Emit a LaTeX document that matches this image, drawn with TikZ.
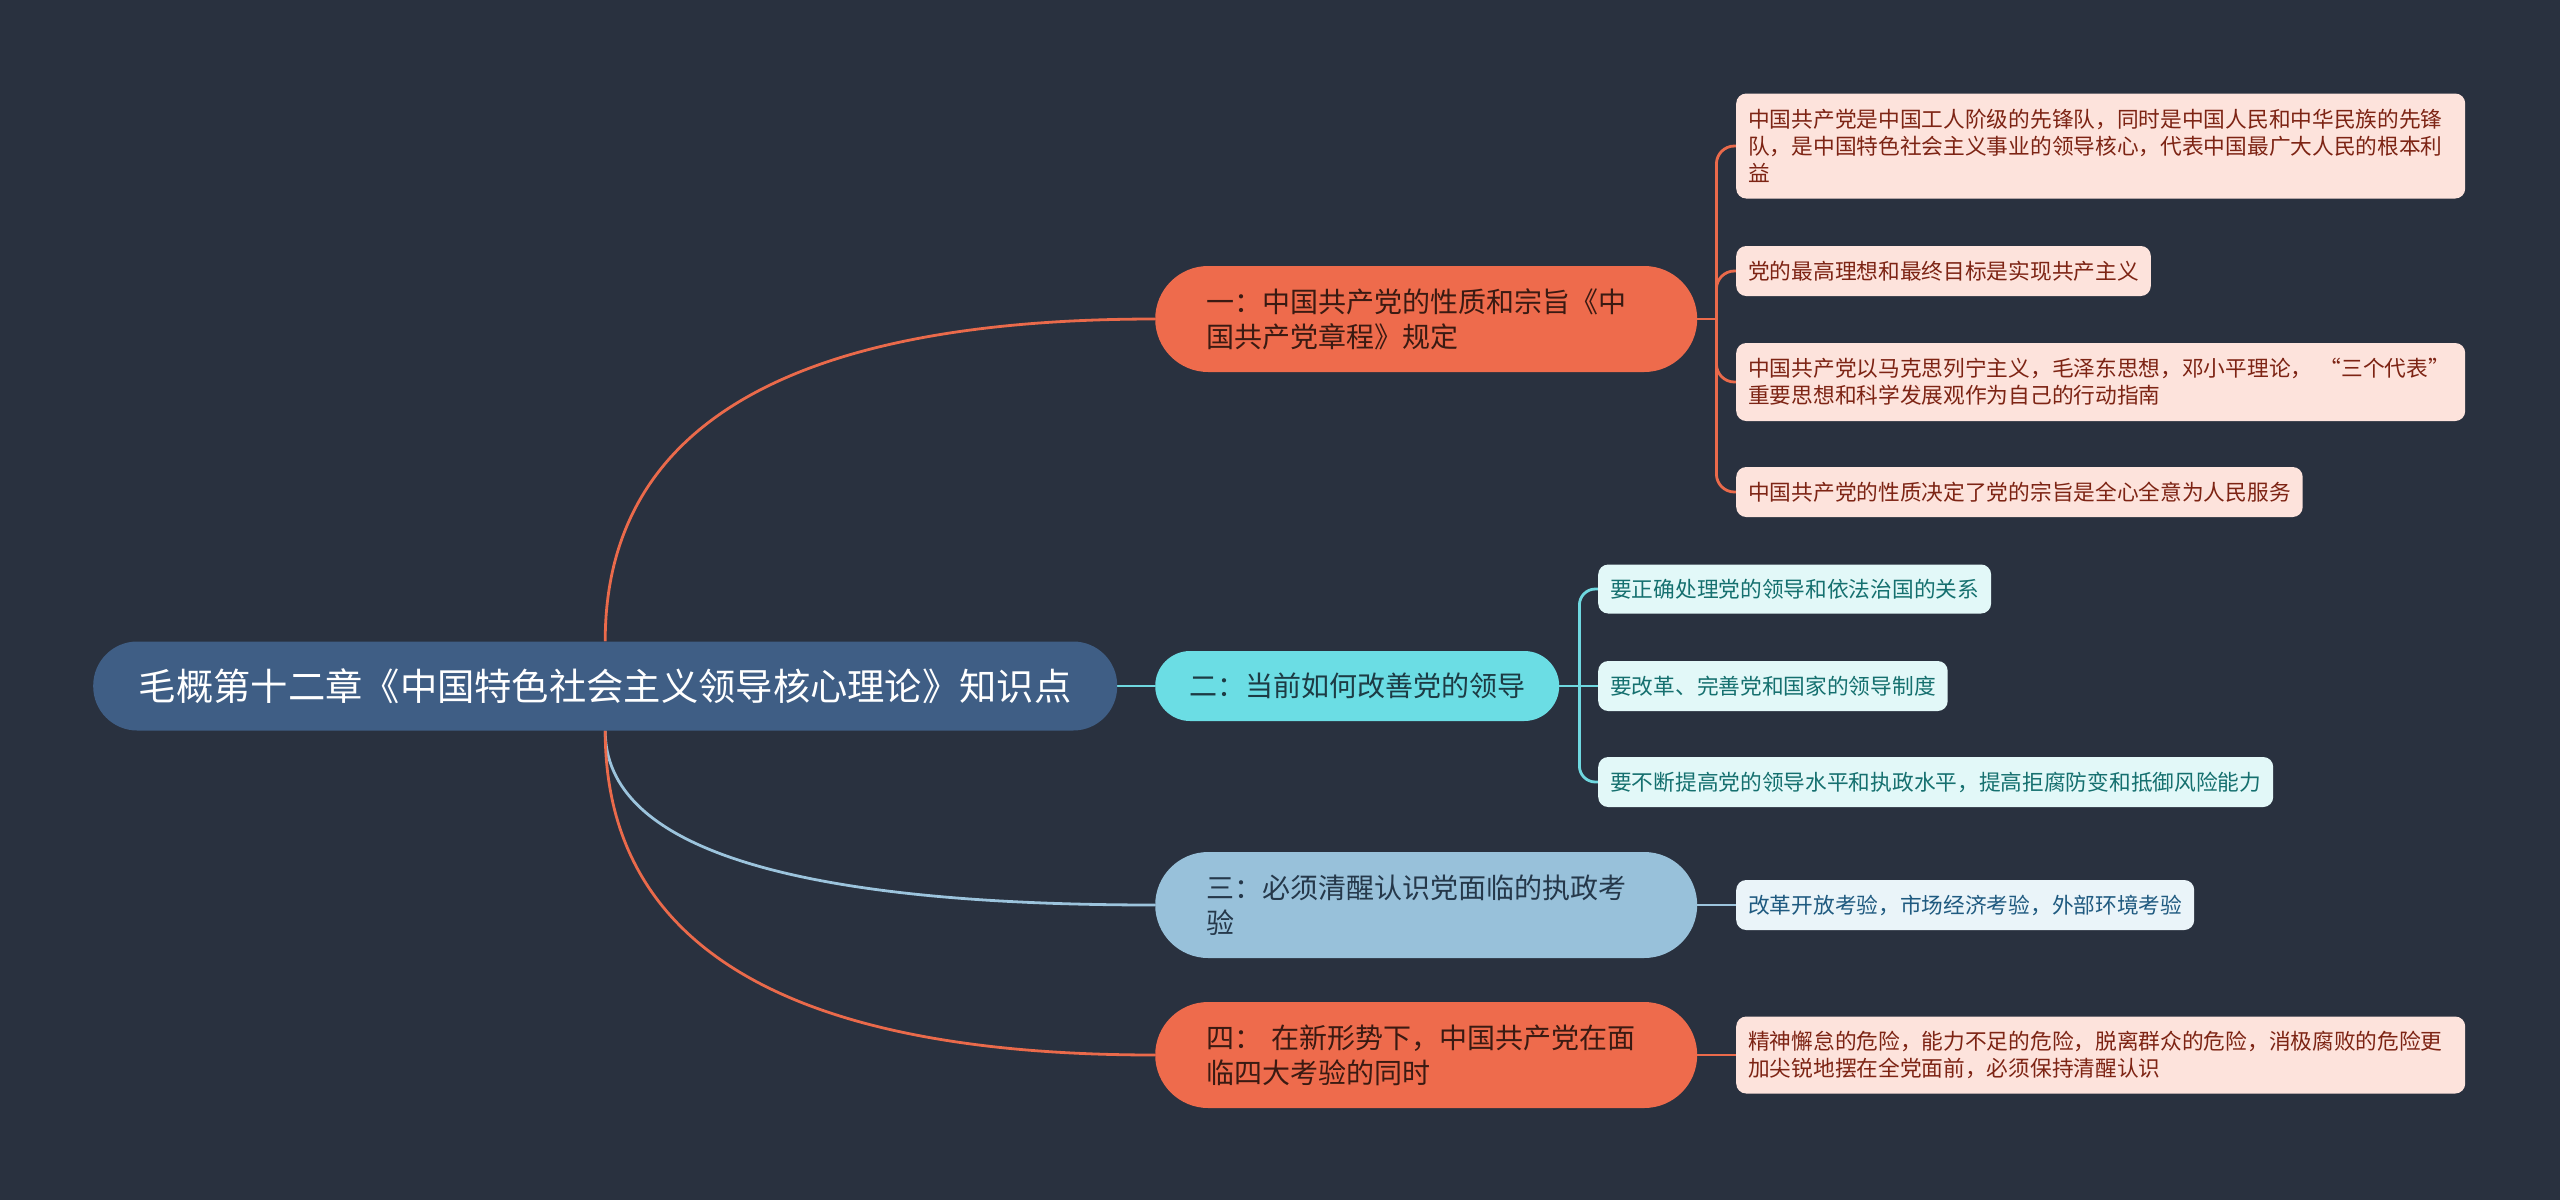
\documentclass[tikz,border=0pt]{standalone}
\usepackage{fontspec}
\setmainfont{Noto Sans CJK SC}
\usetikzlibrary{calc,backgrounds}
\definecolor{bg}{HTML}{29313F}
\definecolor{rootfill}{HTML}{3F5E85}
\definecolor{orangefill}{HTML}{EE6B4C}
\definecolor{cyanfill}{HTML}{6BDDE4}
\definecolor{bluefill}{HTML}{98C1DA}
\definecolor{pinkchild}{HTML}{FDE3DC}
\definecolor{cyanchild}{HTML}{E2F8F8}
\definecolor{bluechild}{HTML}{EAF4F9}
\definecolor{orangetext}{HTML}{3A1A12}
\definecolor{cyantext}{HTML}{1D3B44}
\definecolor{bluetext}{HTML}{25384A}
\definecolor{pinktext}{HTML}{7D2414}
\definecolor{cyanctext}{HTML}{15706F}
\definecolor{bluectext}{HTML}{1F5A80}
\definecolor{orangeline}{HTML}{EA6A4B}
\definecolor{cyanline}{HTML}{6FD8E0}
\definecolor{blueline}{HTML}{9CC4DD}
\begin{document}
\begin{tikzpicture}[x=1pt,y=1pt,
  base/.style={anchor=west, align=left, inner ysep=0pt},
  rootbox/.style={base, fill=rootfill, text=white, rounded corners=44pt,
    minimum width=1024pt, minimum height=89pt, inner xsep=0pt,
    font=\fontsize{37.3}{44}\selectfont, align=center},
  lvwide/.style={base, text width=440pt, inner xsep=51pt, minimum height=106pt,
    rounded corners=53pt, font=\fontsize{28}{35}\selectfont},
  lvorange/.style={lvwide, fill=orangefill, text=orangetext},
  lvblue/.style={lvwide, fill=bluefill, text=bluetext},
  lvcyan/.style={base, fill=cyanfill, text=cyantext, inner xsep=34pt,
    minimum height=70pt, rounded corners=35pt, font=\fontsize{28}{35}\selectfont},
  leaf/.style={base, inner xsep=12pt, rounded corners=10pt,
    font=\fontsize{21.7}{27.2}\selectfont},
  leafwide/.style={leaf, text width=705pt},
  pinkleaf/.style={fill=pinkchild, text=pinktext},
  cyanleaf/.style={fill=cyanchild, text=cyanctext},
  blueleaf/.style={fill=bluechild, text=bluectext},
  conn/.style={line width=2.8pt},
  oconn/.style={conn, draw=orangeline},
  cconn/.style={conn, draw=cyanline},
  bconn/.style={conn, draw=blueline}
]
\useasboundingbox (0,0) rectangle (2560,-1200);

% root
\node[rootbox] (root) at (93,-686) {毛概第十二章《中国特色社会主义领导核心理论》知识点};

% level one
\node[lvorange] (n1) at (1155,-319) {一：中国共产党的性质和宗旨《中\\国共产党章程》规定};
\node[lvcyan] (n2) at (1155,-686) {二：当前如何改善党的领导};
\node[lvblue] (n3) at (1155,-905) {三：必须清醒认识党面临的执政考\\验};
\node[lvorange] (n4) at (1155,-1055) {四： 在新形势下，中国共产党在面\\临四大考验的同时};

% leaves of n1
\node[leafwide, pinkleaf, minimum height=105pt] (c1a) at (1736,-146) {中国共产党是中国工人阶级的先锋队，同时是中国人民和中华民族的先锋\\队，是中国特色社会主义事业的领导核心，代表中国最广大人民的根本利\\益};
\node[leaf, pinkleaf, minimum height=50pt] (c1b) at (1736,-271) {党的最高理想和最终目标是实现共产主义};
\node[leafwide, pinkleaf, minimum height=78pt] (c1c) at (1736,-382) {中国共产党以马克思列宁主义，毛泽东思想，邓小平理论， “三个代表”\\重要思想和科学发展观作为自己的行动指南};
\node[leaf, pinkleaf, minimum height=50pt] (c1d) at (1736,-492) {中国共产党的性质决定了党的宗旨是全心全意为人民服务};

% leaves of n2
\node[leaf, cyanleaf, minimum height=49pt] (c2a) at (1598,-589) {要正确处理党的领导和依法治国的关系};
\node[leaf, cyanleaf, minimum height=50pt] (c2b) at (1598,-686) {要改革、完善党和国家的领导制度};
\node[leaf, cyanleaf, minimum height=50pt] (c2c) at (1598,-782) {要不断提高党的领导水平和执政水平，提高拒腐防变和抵御风险能力};

% leaf of n3
\node[leaf, blueleaf, minimum height=50pt] (c3a) at (1736,-905) {改革开放考验，市场经济考验，外部环境考验};

% leaf of n4
\node[leafwide, pinkleaf, minimum height=77pt] (c4a) at (1736,-1055) {精神懈怠的危险，能力不足的危险，脱离群众的危险，消极腐败的危险更\\加尖锐地摆在全党面前，必须保持清醒认识};

% junctions and curve control points (quadratic curves as cubics)
\coordinate (j1) at ($(n1.east)+(19,0)$);
\coordinate (j2) at ($(n2.east)+(20,0)$);
\coordinate (k1) at (root.north |- n1.west);
\coordinate (k3) at (root.south |- n3.west);
\coordinate (k4) at (root.south |- n4.west);

\begin{scope}[on background layer]
\fill[bg] (0,0) rectangle (2560,-1200);
% root connectors
\draw[oconn] (root.north) .. controls ($(root.north)!2/3!(k1)$) and ($(n1.west)!2/3!(k1)$) .. (n1.west);
\draw[bconn] (root.south) .. controls ($(root.south)!2/3!(k3)$) and ($(n3.west)!2/3!(k3)$) .. (n3.west);
\draw[oconn] (root.south) .. controls ($(root.south)!2/3!(k4)$) and ($(n4.west)!2/3!(k4)$) .. (n4.west);
\draw[cconn] (root.east) -- (n2.west);

% n1 bracket
\draw[oconn] (n1.east) -- (j1);
\draw[oconn, rounded corners=18pt] (j1) |- (c1a.west);
\draw[oconn, rounded corners=18pt] (j1) |- (c1b.west);
\draw[oconn, rounded corners=18pt] (j1) |- (c1c.west);
\draw[oconn, rounded corners=18pt] (j1) |- (c1d.west);

% n2 bracket
\draw[cconn] (n2.east) -- (j2);
\draw[cconn, rounded corners=16pt] (j2) |- (c2a.west);
\draw[cconn] (j2) -- (c2b.west);
\draw[cconn, rounded corners=16pt] (j2) |- (c2c.west);

% n3, n4
\draw[bconn] (n3.east) -- (c3a.west);
\draw[oconn] (n4.east) -- (c4a.west);
\end{scope}
\end{tikzpicture}
\end{document}
